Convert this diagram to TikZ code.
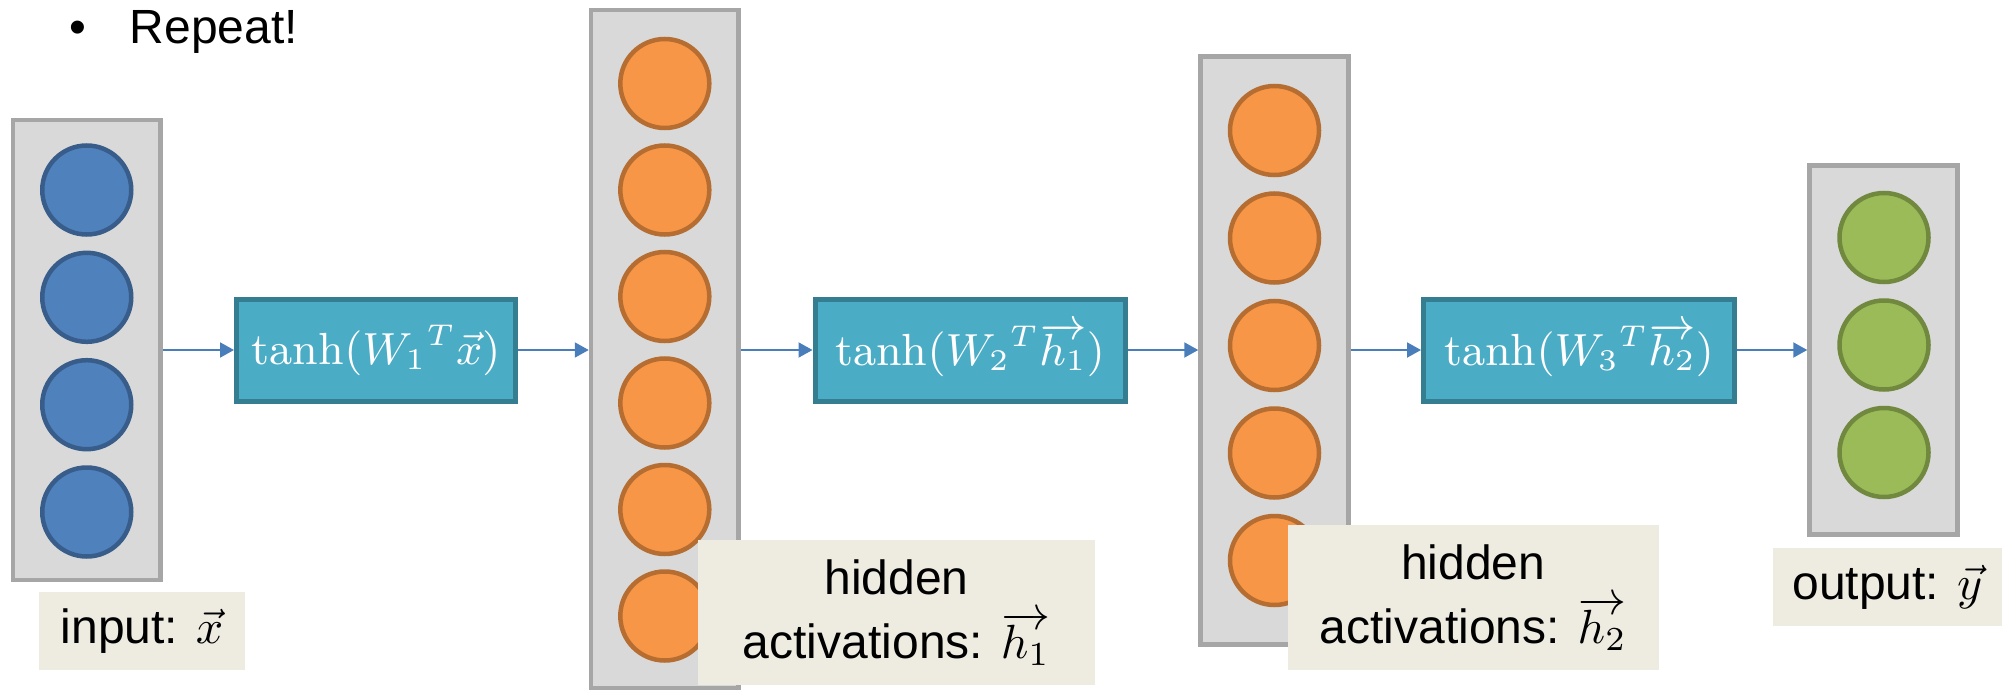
\documentclass[tikz,border=0pt]{standalone}
\usepackage{graphicx}
\usepackage{fontspec}
\newfontfamily\arial{Liberation Sans}
\usetikzlibrary{arrows.meta}
\definecolor{grayfill}{HTML}{D9D9D9}
\definecolor{grayline}{HTML}{A6A6A6}
\definecolor{bluefill}{HTML}{4F81BD}
\definecolor{blueline}{HTML}{385D8A}
\definecolor{orangefill}{HTML}{F79646}
\definecolor{orangeline}{HTML}{B66D31}
\definecolor{greenfill}{HTML}{9BBB59}
\definecolor{greenline}{HTML}{71893F}
\definecolor{tealfill}{HTML}{4BACC6}
\definecolor{tealline}{HTML}{357D91}
\definecolor{labelfill}{HTML}{EEECE1}
\definecolor{arrowblue}{HTML}{4A7EBB}
\newcommand{\tanhmath}[1]{\scalebox{5}{\fontsize{9}{11}\selectfont$#1$}}
\newcommand{\labmath}[1]{\scalebox{4.8}{\fontsize{10}{12}\selectfont$#1$}}
\begin{document}
\begin{tikzpicture}[x=1pt,y=-1pt,
  layerbox/.style={rectangle,draw=grayline,fill=grayfill,line width=4.5pt,inner sep=0pt},
  neuron/.style={circle,line width=4.5pt,minimum size=89pt,inner sep=0pt},
  bluen/.style={neuron,fill=bluefill,draw=blueline},
  orangen/.style={neuron,fill=orangefill,draw=orangeline},
  greenn/.style={neuron,fill=greenfill,draw=greenline},
  tanhbox/.style={rectangle,draw=tealline,fill=tealfill,line width=5pt,inner sep=0pt,
    text=white},
  labelbox/.style={rectangle,fill=labelfill,inner sep=0pt,align=center,
    font=\arial\fontsize{48}{64}\selectfont},
  plaintext/.style={inner sep=0pt,font=\arial\fontsize{48}{58}\selectfont},
  conn/.style={draw=arrowblue,line width=2pt,-{Triangle[length=14pt,width=15pt]}}
]
\useasboundingbox (0,0) rectangle (2002,690);

% title
\node[plaintext,anchor=base] (bul) at (78,43.3) {•};
\node[plaintext,anchor=base west] (rep) at (129.5,43.3) {Repeat!};

% layer boxes
\node[layerbox,minimum width=147.5pt,minimum height=460pt] (in) at (86.75,350) {};
\node[layerbox,minimum width=147.7pt,minimum height=678pt] (h1) at (664.85,349) {};
\node[layerbox,minimum width=148pt,minimum height=588pt] (h2) at (1274.5,350.5) {};
\node[layerbox,minimum width=148pt,minimum height=369pt] (out) at (1883.5,350) {};

% neurons
\foreach \y [count=\i] in {190,297.3,404.7,512}
  \node[bluen] (x\i) at (86.75,\y) {};
\foreach \y [count=\i] in {83.5,190,296.5,403,509.5,616}
  \node[orangen] (a\i) at (664.8,\y) {};
\foreach \y [count=\i] in {130.5,238,345.5,453,560.5}
  \node[orangen] (b\i) at (1274.5,\y) {};
\foreach \y [count=\i] in {237.5,345,452.5}
  \node[greenn] (y\i) at (1884,\y) {};

% transform boxes
\node[tanhbox,minimum width=279pt,minimum height=102pt] (t1) at (376,350)
  {\tanhmath{\tanh({W_1}^{T}\vec{x})}};
\node[tanhbox,minimum width=310pt,minimum height=102pt] (t2) at (970,350)
  {\tanhmath{\tanh({W_2}^{T}\overrightarrow{h_1})}};
\node[tanhbox,minimum width=311pt,minimum height=102pt] (t3) at (1579,350)
  {\tanhmath{\tanh({W_3}^{T}\overrightarrow{h_2})}};

% labels
\node[labelbox,minimum width=206.5pt,minimum height=78pt] (lin) at (142,631)
  {input: \labmath{\vec{x}}};
\node[labelbox,minimum width=397pt,minimum height=145pt] (lh1) at (896.5,612.5)
  {hidden\\activations: \labmath{\overrightarrow{h_1}}};
\node[labelbox,minimum width=370.5pt,minimum height=145pt] (lh2) at (1473.25,597.5)
  {hidden\\activations: \labmath{\overrightarrow{h_2}}};
\node[labelbox,minimum width=229.3pt,minimum height=78pt] (lout) at (1887.35,587)
  {output: \labmath{\vec{y}}};

% connectors
\draw[conn] (in.east) -- (t1.west);
\draw[conn] (t1.east) -- (t1.east -| h1.west);
\draw[conn] (t1.east -| h1.east) -- (t2.west);
\draw[conn] (t2.east) -- (t2.east -| h2.west);
\draw[conn] (t2.east -| h2.east) -- (t3.west);
\draw[conn] (t3.east) -- (out.west);
\end{tikzpicture}
\end{document}
